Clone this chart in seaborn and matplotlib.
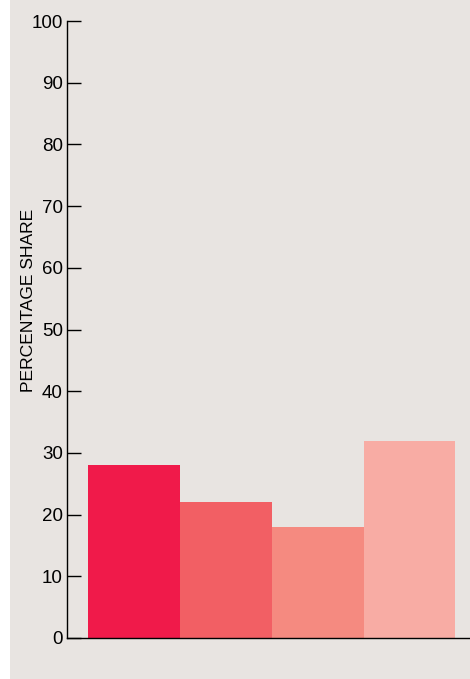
import matplotlib
matplotlib.use("Agg")
import matplotlib.pyplot as plt
from matplotlib.patches import Rectangle
import seaborn as sns

# values
groups = ["g1", "g2", "g3", "g4"]
shares = [28, 22, 18, 32]
bar_colors = ["#f01a4a", "#f25f64", "#f58a80", "#f8aca4"]
y_ticks = [0, 10, 20, 30, 40, 50, 60, 70, 80, 90, 100]

bg = "#e8e4e1"

sns.set_style("white")
plt.rcParams["font.family"] = ["Liberation Sans", "DejaVu Sans"]
plt.rcParams["text.color"] = "black"
plt.rcParams["axes.labelcolor"] = "black"
plt.rcParams["ytick.color"] = "black"

fig = plt.figure(figsize=(4.70, 6.79), dpi=100, facecolor="white")
# beige panel, leaving a thin white strip on the left
fig.patches.append(Rectangle((10 / 470, 0), 1, 1, transform=fig.transFigure,
                             facecolor=bg, edgecolor="none", zorder=-10))

ax = fig.add_axes([67 / 470, 41 / 679, 403 / 470, 617 / 679])
ax.patch.set_alpha(0)

sns.barplot(x=groups, y=shares, hue=groups, palette=bar_colors, width=1,
            saturation=1, legend=False, linewidth=0, ax=ax, zorder=1)

ax.set_xlim(-0.73, 3.66)
ax.set_ylim(0, 100)
ax.set_yticks(y_ticks)
ax.set_xticks([])
ax.set_xlabel("")

ax.tick_params(axis="y", direction="in", length=10, width=1, pad=3,
               labelsize=13.5, colors="black", left=True)
for s in ["top", "right"]:
    ax.spines[s].set_visible(False)
for s in ["left", "bottom"]:
    ax.spines[s].set_color("black")
    ax.spines[s].set_linewidth(1)
    ax.spines[s].set_zorder(3)

ax.set_ylabel("PERCENTAGE SHARE", fontsize=12.6)
ax.yaxis.set_label_coords(-0.078, 0.548)

fig.savefig("out.png", dpi=100, facecolor="white")
